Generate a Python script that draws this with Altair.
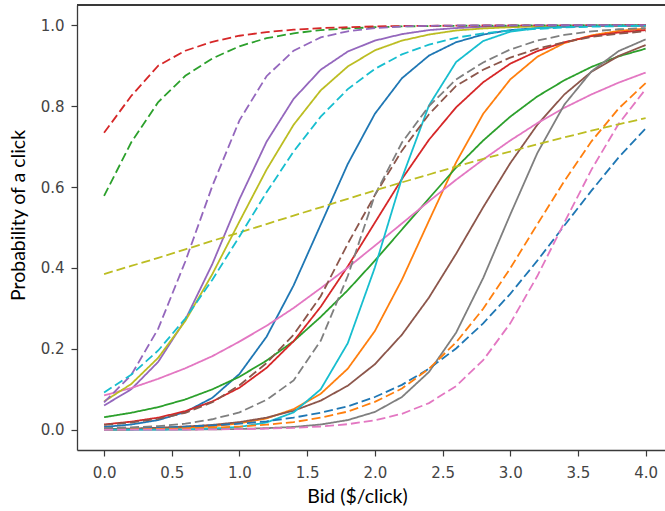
import altair as alt
import pandas as pd

bids = [0.0, 0.2, 0.4, 0.6, 0.8, 1.0, 1.2, 1.4, 1.6, 1.8, 2.0,
        2.2, 2.4, 2.6, 2.8, 3.0, 3.2, 3.4, 3.6, 3.8, 4.0]

# solid curves (tab10 order)
s_blue = [0.007, 0.013, 0.024, 0.044, 0.079, 0.138, 0.230, 0.357, 0.507, 0.657, 0.781, 0.869, 0.925, 0.958, 0.977, 0.988, 0.993, 0.996, 0.998, 0.999, 0.9994]
s_orange = [0.001, 0.0015, 0.0027, 0.0048, 0.0087, 0.016, 0.028, 0.051, 0.089, 0.151, 0.244, 0.371, 0.517, 0.661, 0.781, 0.866, 0.922, 0.956, 0.975, 0.986, 0.992]
s_green = [0.031, 0.042, 0.056, 0.075, 0.100, 0.131, 0.171, 0.219, 0.279, 0.345, 0.418, 0.495, 0.572, 0.648, 0.715, 0.774, 0.824, 0.864, 0.897, 0.923, 0.942]
s_red = [0.013, 0.020, 0.030, 0.046, 0.070, 0.104, 0.153, 0.219, 0.304, 0.404, 0.512, 0.620, 0.717, 0.797, 0.859, 0.905, 0.936, 0.958, 0.973, 0.982, 0.988]
s_purple = [0.060, 0.100, 0.168, 0.272, 0.410, 0.570, 0.712, 0.818, 0.890, 0.935, 0.962, 0.978, 0.988, 0.993, 0.996, 0.998, 0.9988, 0.9993, 0.9996, 0.9998, 0.9999]
s_brown = [0.002, 0.003, 0.005, 0.008, 0.012, 0.019, 0.030, 0.047, 0.072, 0.109, 0.162, 0.235, 0.327, 0.435, 0.550, 0.659, 0.754, 0.829, 0.885, 0.924, 0.951]
s_pink = [0.085, 0.103, 0.126, 0.152, 0.182, 0.218, 0.257, 0.301, 0.350, 0.401, 0.455, 0.510, 0.565, 0.618, 0.668, 0.715, 0.758, 0.796, 0.829, 0.858, 0.883]
s_gray = [0.0001, 0.0001, 0.0003, 0.0005, 0.001, 0.002, 0.004, 0.007, 0.013, 0.024, 0.044, 0.081, 0.143, 0.240, 0.375, 0.532, 0.684, 0.804, 0.886, 0.936, 0.965]
s_olive = [0.070, 0.113, 0.178, 0.269, 0.385, 0.515, 0.643, 0.754, 0.839, 0.898, 0.938, 0.962, 0.977, 0.987, 0.992, 0.995, 0.997, 0.998, 0.999, 0.9994, 0.9997]
s_cyan = [0.0001, 0.0002, 0.0005, 0.0012, 0.003, 0.007, 0.018, 0.043, 0.100, 0.214, 0.401, 0.622, 0.802, 0.909, 0.961, 0.984, 0.993, 0.997, 0.9989, 0.9995, 0.9998]

# dashed curves (tab10 order)
d_blue = [0.003, 0.004, 0.005, 0.0075, 0.011, 0.015, 0.021, 0.030, 0.042, 0.058, 0.081, 0.111, 0.151, 0.201, 0.263, 0.336, 0.418, 0.505, 0.591, 0.673, 0.745]
d_orange = [0.001, 0.0014, 0.0022, 0.0034, 0.0052, 0.008, 0.0125, 0.019, 0.030, 0.045, 0.069, 0.102, 0.151, 0.216, 0.299, 0.399, 0.508, 0.615, 0.713, 0.794, 0.857]
d_green = [0.578, 0.71, 0.81, 0.875, 0.918, 0.948, 0.968, 0.980, 0.988, 0.992, 0.995, 0.997, 0.998, 0.9985, 0.999, 0.9993, 0.9995, 0.9997, 0.9998, 0.9998, 0.9999]
d_red = [0.734, 0.825, 0.900, 0.937, 0.959, 0.974, 0.983, 0.989, 0.993, 0.995, 0.997, 0.998, 0.9985, 0.999, 0.9993, 0.9995, 0.9997, 0.9998, 0.9998, 0.9999, 0.9999]
d_purple = [0.068, 0.135, 0.250, 0.416, 0.603, 0.765, 0.874, 0.937, 0.970, 0.985, 0.993, 0.9968, 0.9985, 0.9993, 0.9997, 0.9998, 0.9999, 0.9999, 1.0, 1.0, 1.0]
d_brown = [0.012, 0.018, 0.027, 0.042, 0.068, 0.11, 0.165, 0.235, 0.33, 0.46, 0.58, 0.69, 0.78, 0.85, 0.89, 0.92, 0.942, 0.958, 0.971, 0.979, 0.985]
d_pink = [0.0001, 0.0002, 0.0003, 0.0005, 0.0009, 0.0016, 0.0028, 0.0047, 0.0081, 0.0138, 0.0234, 0.0395, 0.066, 0.108, 0.172, 0.263, 0.380, 0.5125, 0.643, 0.756, 0.842]
d_gray = [0.004, 0.006, 0.009, 0.015, 0.026, 0.043, 0.074, 0.122, 0.22, 0.38, 0.58, 0.71, 0.80, 0.866, 0.908, 0.94, 0.962, 0.976, 0.985, 0.990, 0.993]
d_olive = [0.385, 0.405, 0.425, 0.446, 0.467, 0.4875, 0.5085, 0.5295, 0.550, 0.571, 0.5915, 0.6116, 0.631, 0.6507, 0.6695, 0.6878, 0.7056, 0.7227, 0.7393, 0.7551, 0.7703]
d_cyan = [0.092, 0.136, 0.196, 0.275, 0.371, 0.478, 0.587, 0.688, 0.774, 0.842, 0.892, 0.928, 0.952, 0.969, 0.980, 0.987, 0.991, 0.9945, 0.9964, 0.9977, 0.9985]

palette = ["#1f77b4", "#ff7f0e", "#2ca02c", "#d62728", "#9467bd",
           "#8c564b", "#e377c2", "#7f7f7f", "#bcbd22", "#17becf"]
solid = [s_blue, s_orange, s_green, s_red, s_purple, s_brown, s_pink, s_gray, s_olive, s_cyan]
dashed = [d_blue, d_orange, d_green, d_red, d_purple, d_brown, d_pink, d_gray, d_olive, d_cyan]

rows = []
names = []
colors = []
order = 0
for style, group in (("solid", solid), ("dashed", dashed)):
    for i, vals in enumerate(group):
        name = f"{style}_{i}"
        names.append(name)
        colors.append(palette[i])
        for xv, yv in zip(bids, vals):
            rows.append({"bid": xv, "p": yv, "series": name, "style": style, "k": order})
        order += 1
df = pd.DataFrame(rows)

W, H = 588, 445

lines = alt.Chart(df).mark_line(strokeWidth=1.8, clip=True).encode(
    x=alt.X("bid:Q",
            scale=alt.Scale(domain=[-0.2, 4.143], nice=False, zero=False),
            axis=alt.Axis(values=[0, 0.5, 1, 1.5, 2, 2.5, 3, 3.5, 4], format=".1f",
                          title="Bid ($/click)", titleX=280, titleY=46,
                          titleAlign="center", titleBaseline="middle")),
    y=alt.Y("p:Q",
            scale=alt.Scale(domain=[-0.05, 1.05], nice=False, zero=False),
            axis=alt.Axis(values=[0, 0.2, 0.4, 0.6, 0.8, 1.0], format=".1f",
                          title="Probability of a click", titleX=-59, titleY=210,
                          titleAngle=270, titleAlign="center", titleBaseline="middle")),
    color=alt.Color("series:N", scale=alt.Scale(domain=names, range=colors), legend=None),
    strokeDash=alt.StrokeDash("style:N",
                              scale=alt.Scale(domain=["solid", "dashed"], range=[[1, 0], [9, 4]]),
                              legend=None),
    order=alt.Order("k:Q"),
)

top = alt.Chart(df).mark_rule(color="#3a3a3a", strokeWidth=1.3).encode(
    x=alt.value(0), x2=alt.value(W), y=alt.value(0)
)

chart = alt.layer(lines, top).properties(
    width=W, height=H,
    autosize=alt.AutoSizeParams(type="none"),
    padding={"left": 77, "top": 5, "right": 0, "bottom": 61},
).configure_view(stroke=None).configure_axis(
    grid=False,
    domainColor="#3a3a3a", domainWidth=1.3,
    tickColor="#3a3a3a", tickSize=6, tickWidth=1.2,
    labelFont="DejaVu Sans", labelFontSize=15, labelColor="#444444",
    titleFont="Lato", titleFontSize=19.5, titleFontWeight="normal", titleColor="#000000",
).configure_axisX(labelPadding=9).configure_axisY(labelPadding=7)

chart.save("out.html", embed_options={"renderer": "svg", "actions": False})
